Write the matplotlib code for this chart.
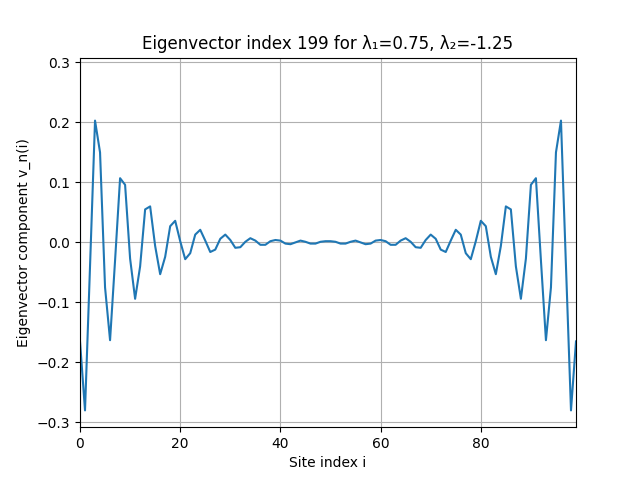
import matplotlib
matplotlib.use("Agg")
import matplotlib.pyplot as plt
import numpy as np

sites = list(range(100))
values = [
    -0.165, -0.280, -0.040, 0.203, 0.150, -0.075, -0.163, -0.030, 0.107, 0.096,
    -0.027, -0.094, -0.040, 0.055, 0.060, -0.006, -0.053, -0.024, 0.027, 0.036,
    0.002, -0.028, -0.018, 0.013, 0.021, 0.003, -0.016, -0.012, 0.006, 0.013,
    0.004, -0.009, -0.008, 0.001, 0.007, 0.003, -0.004, -0.004, 0.002, 0.004,
    0.003, -0.002, -0.003, 0.000, 0.003, 0.001, -0.002, -0.002, 0.001, 0.002,
    0.002, 0.001, -0.002, -0.002, 0.001, 0.003, 0.000, -0.003, -0.002, 0.003,
    0.004, 0.002, -0.004, -0.004, 0.003, 0.007, 0.001, -0.008, -0.009, 0.004,
    0.013, 0.006, -0.012, -0.016, 0.003, 0.021, 0.013, -0.018, -0.028, 0.002,
    0.036, 0.027, -0.024, -0.053, -0.006, 0.060, 0.055, -0.040, -0.094, -0.027,
    0.096, 0.107, -0.030, -0.163, -0.075, 0.150, 0.203, -0.040, -0.280, -0.165,
]

fig, ax = plt.subplots(figsize=(6.4, 4.8), dpi=100)
ax.plot(sites, values, color="#1f77b4", linewidth=1.5)
ax.set_xlim(0, 99)
lim = max(abs(v) for v in values) * 1.1
ax.set_ylim(-lim, lim)
ax.set_title("Eigenvector index 199 for λ₁=0.75, λ₂=-1.25")
ax.set_xlabel("Site index i")
ax.set_ylabel("Eigenvector component v_n(i)")
ax.grid(True)
fig.savefig("out.png", dpi=100)
